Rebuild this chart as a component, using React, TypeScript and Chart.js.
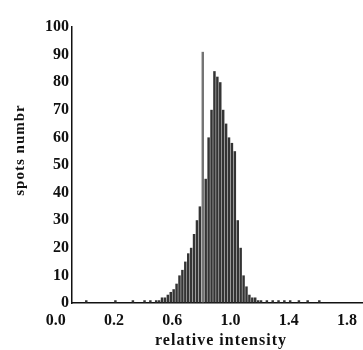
import { useEffect, useRef } from 'react';
import { Chart, registerables } from 'chart.js';

Chart.register(...registerables);

// Histogram bins (bin centre on the relative-intensity axis) and spot counts
const binCenters = [
  0.01, 0.21, 0.33, 0.41, 0.45, 0.49, 0.51, 0.53, 0.55, 0.57,
  0.59, 0.61, 0.63, 0.65, 0.67, 0.69, 0.71, 0.73, 0.75, 0.77,
  0.79, 0.81, 0.83, 0.85, 0.87, 0.89, 0.91, 0.93, 0.95, 0.97,
  0.99, 1.01, 1.03, 1.05, 1.07, 1.09, 1.11, 1.13, 1.15, 1.17,
  1.19, 1.21, 1.25, 1.29, 1.33, 1.37, 1.41, 1.47, 1.53, 1.61,
];
const spotCounts = [
  1, 1, 1, 1, 1, 1, 1, 2, 2, 3,
  4, 5, 7, 10, 12, 15, 18, 20, 25, 30,
  35, 91, 45, 60, 70, 84, 82, 80, 70, 65,
  60, 58, 55, 30, 20, 10, 6, 3, 2, 2,
  1, 1, 1, 1, 1, 1, 1, 1, 1, 1,
];

// Axis ticks as printed in the figure
const xTickValues = [-0.2, 0.2, 0.6, 1.0, 1.4, 1.8];
const xTickLabels = ['0.0', '0.2', '0.6', '1.0', '1.4', '1.8'];
const yTickValues = [0, 10, 20, 30, 40, 50, 60, 70, 80, 90, 100];

const xTitle = 'relative intensity';
const yTitle = 'spots numbr';

const FONT = 'Liberation Serif';
const INK = '#111';

export default function App() {
  const ref = useRef<HTMLCanvasElement | null>(null);

  useEffect(() => {
    document.body.style.margin = '0';
    const canvas = ref.current;
    if (!canvas) return;

    const titlePlugin = {
      id: 'axisTitles',
      afterDraw(chart: any) {
        const { ctx, chartArea } = chart;
        ctx.save();
        ctx.fillStyle = INK;
        ctx.font = `bold 16px "${FONT}"`;
        ctx.textAlign = 'center';
        ctx.textBaseline = 'middle';
        try { (ctx as any).letterSpacing = '1px'; } catch (e) { /* ignore */ }
        ctx.fillText(xTitle, 221, chartArea.bottom + 38);
        ctx.translate(20, 150);
        ctx.rotate(-Math.PI / 2);
        ctx.font = `bold 15px "${FONT}"`;
        ctx.fillText(yTitle, 0, 0);
        ctx.restore();
      },
    };

    const chart = new Chart(canvas, {
      type: 'bar',
      data: {
        datasets: [
          {
            data: binCenters.map((x, i) => ({ x, y: spotCounts[i] })),
            backgroundColor: (c: any) =>
              c.raw && c.raw.y > 88 ? 'rgba(70,70,70,0.75)' : 'rgba(35,35,35,0.92)',
            borderWidth: 0,
            barPercentage: 0.85,
            categoryPercentage: 1,
          },
        ],
      },
      options: {
        animation: false,
        responsive: false,
        maintainAspectRatio: false,
        layout: { padding: { top: 27, left: 0, right: 0, bottom: 0 } },
        plugins: { legend: { display: false }, tooltip: { enabled: false } },
        scales: {
          x: {
            type: 'linear',
            offset: false,
            min: -0.088,
            max: 1.91,
            grid: { display: false, drawTicks: false },
            border: { display: true, color: INK, width: 1.5 },
            afterBuildTicks: (s: any) => {
              s.ticks = xTickValues.map((v) => ({ value: v }));
            },
            ticks: {
              autoSkip: false,
              maxRotation: 0,
              padding: 8,
              color: INK,
              font: { family: FONT, size: 16, weight: 'bold' },
              callback: (_v: any, i: number) => xTickLabels[i],
            },
            afterFit: (s: any) => {
              s.height = 47;
              s.paddingLeft = 0;
              s.paddingRight = 0;
            },
          },
          y: {
            min: 0,
            max: 100,
            grid: { display: false, drawTicks: false },
            border: { display: true, color: INK, width: 1.5 },
            afterBuildTicks: (s: any) => {
              s.ticks = yTickValues.map((v) => ({ value: v }));
            },
            ticks: {
              autoSkip: false,
              padding: 3,
              color: INK,
              font: { family: FONT, size: 16, weight: 'bold' },
            },
            afterFit: (s: any) => {
              s.width = 72;
              s.paddingTop = 0;
              s.paddingBottom = 0;
            },
          },
        },
      } as any,
      plugins: [titlePlugin],
    });

    return () => chart.destroy();
  }, []);

  return (
    <div style={{ width: 363, height: 350 }}>
      <canvas ref={ref} width={363} height={350} />
    </div>
  );
}
